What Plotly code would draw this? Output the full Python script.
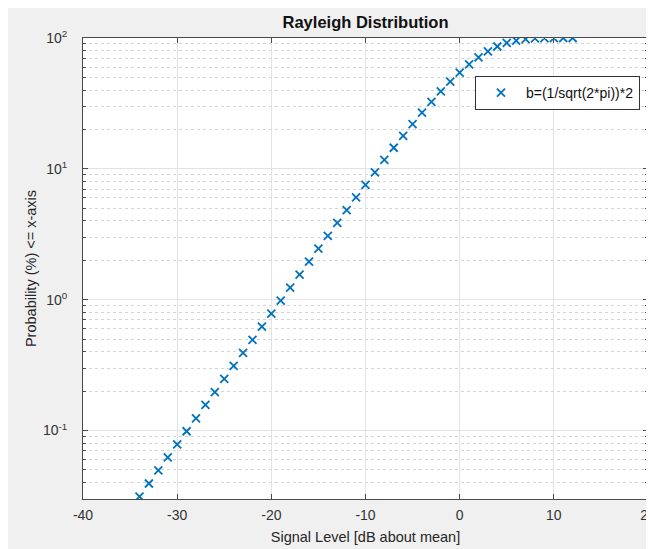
import plotly.graph_objects as go

# Signal level (dB about mean)
signal_db = list(range(-34, 13))
# Probability (%) <= x-axis
prob_pct = [0.0313, 0.0394, 0.0496, 0.0624, 0.0785, 0.0988, 0.124, 0.157, 0.197,
            0.248, 0.312, 0.393, 0.494, 0.622, 0.782, 0.984, 1.237, 1.555, 1.954,
            2.453, 3.078, 3.860, 4.835, 6.048, 7.553, 9.414, 11.70, 14.50, 17.90,
            21.99, 26.85, 32.54, 39.08, 46.41, 54.41, 62.79, 71.20, 79.13, 86.09,
            91.66, 95.61, 98.05, 99.30, 99.80, 99.96, 99.995, 100.0]
series_name = "b=(1/sqrt(2*pi))*2"

x_ticks = [-40, -30, -20, -10, 0, 10, 20]
x_tick_text = ["-40", "-30", "-20", "-10", "0", "10", "20"]
y_major = [0.1, 1, 10, 100]
y_major_text = ["10<sup>-1</sup>", "10<sup>0</sup>", "10<sup>1</sup>", "10<sup>2</sup>"]
y_minor = [m * d for d in [0.01, 0.1, 1, 10] for m in range(2, 10) if m * d > 0.03]

W, H = 654, 549
L, T, PW, PH = 75, 30, 565, 461
R, B = W - L - PW, H - T - PH

blue = "#0072BD"
fig = go.Figure()
fig.add_trace(go.Scatter(
    x=signal_db, y=prob_pct, mode="markers", name=series_name,
    marker=dict(symbol="x-thin", size=8, line=dict(color=blue, width=1.8), color=blue),
))

font = "Liberation Sans, Arial, sans-serif"
axis_col = "#4a4a4a"
fig.update_layout(
    width=W, height=H,
    margin=dict(l=L, r=R, t=T, b=B, autoexpand=False),
    paper_bgcolor="#f0f0f0", plot_bgcolor="white",
    font=dict(family=font, size=14, color="#262626"),
    title=dict(text="<b>Rayleigh Distribution</b>", x=(L + PW / 2) / W, xanchor="center",
               y=1 - 14 / H, yanchor="middle", font=dict(size=16.5, color="#111"), automargin=False),
    showlegend=True,
    legend=dict(x=(467 - L) / PW, y=(T + PH - 68) / PH, xanchor="left", yanchor="top",
                bgcolor="white", bordercolor="#333", borderwidth=1,
                font=dict(size=14, color="#111"), itemwidth=40),
)
fig.update_xaxes(
    range=[-40, 20], tickvals=x_ticks, ticktext=x_tick_text, ticks="inside", ticklen=5,
    tickcolor=axis_col, automargin=False, ticklabelstandoff=3,
    showline=True, linecolor=axis_col, linewidth=1, mirror="ticks",
    showgrid=True, gridcolor="#e3e3e3", gridwidth=1, zeroline=False,
    title=dict(text="Signal Level [dB about mean]", font=dict(size=14.5), standoff=10),
    tickfont=dict(size=14, color="#333"),
)
fig.update_yaxes(
    type="log", range=[-1.5229, 2], tickvals=y_major, ticktext=y_major_text,
    ticks="inside", ticklen=5, tickcolor=axis_col, automargin=False, ticklabelstandoff=12,
    showline=True, linecolor=axis_col, linewidth=1, mirror="ticks",
    showgrid=True, gridcolor="#e3e3e3", gridwidth=1, zeroline=False,
    minor=dict(tickmode="array", tickvals=y_minor, ticks="inside", ticklen=3,
               tickcolor=axis_col, showgrid=True, gridcolor="#d4d4d4", griddash="dot", gridwidth=1),
    title=dict(text="Probability (%) &lt;= x-axis", font=dict(size=14.5), standoff=2),
    tickfont=dict(size=14, color="#333"),
)
fig.write_html("out.html")
